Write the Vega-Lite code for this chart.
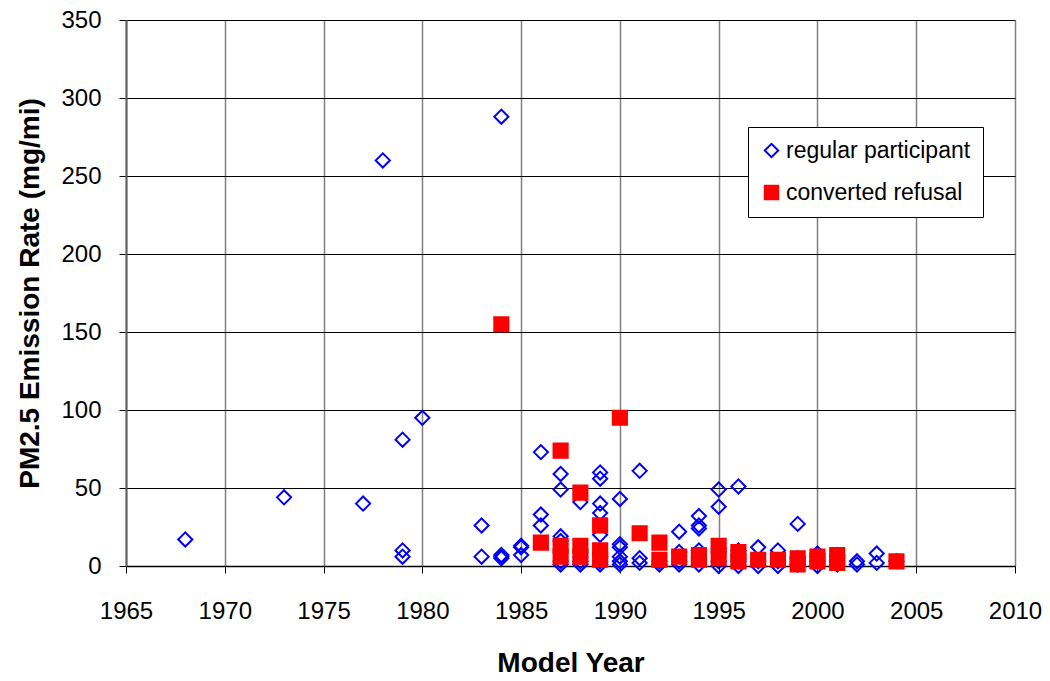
{
  "$schema": "https://vega.github.io/schema/vega-lite/v6.json",
  "width": 889,
  "height": 546,
  "autosize": {"type": "none"},
  "padding": {"left": 126, "top": 20, "right": 35, "bottom": 115},
  "background": "white",
  "config": {"view": {"stroke": null}, "font": "Liberation Sans"},
  "data": {"values": [
    {"year":1968,"pm":17,"type":"regular participant"},
    {"year":1973,"pm":44,"type":"regular participant"},
    {"year":1977,"pm":40,"type":"regular participant"},
    {"year":1978,"pm":260,"type":"regular participant"},
    {"year":1979,"pm":81,"type":"regular participant"},
    {"year":1979,"pm":10,"type":"regular participant"},
    {"year":1979,"pm":6,"type":"regular participant"},
    {"year":1980,"pm":95,"type":"regular participant"},
    {"year":1983,"pm":26,"type":"regular participant"},
    {"year":1983,"pm":6,"type":"regular participant"},
    {"year":1984,"pm":288,"type":"regular participant"},
    {"year":1984,"pm":7,"type":"regular participant"},
    {"year":1984,"pm":6,"type":"regular participant"},
    {"year":1984,"pm":5,"type":"regular participant"},
    {"year":1985,"pm":13,"type":"regular participant"},
    {"year":1985,"pm":12,"type":"regular participant"},
    {"year":1985,"pm":7,"type":"regular participant"},
    {"year":1986,"pm":73,"type":"regular participant"},
    {"year":1986,"pm":33,"type":"regular participant"},
    {"year":1986,"pm":26,"type":"regular participant"},
    {"year":1987,"pm":59,"type":"regular participant"},
    {"year":1987,"pm":49,"type":"regular participant"},
    {"year":1987,"pm":19,"type":"regular participant"},
    {"year":1987,"pm":16,"type":"regular participant"},
    {"year":1987,"pm":3,"type":"regular participant"},
    {"year":1987,"pm":1,"type":"regular participant"},
    {"year":1988,"pm":41,"type":"regular participant"},
    {"year":1988,"pm":6,"type":"regular participant"},
    {"year":1988,"pm":3,"type":"regular participant"},
    {"year":1988,"pm":1,"type":"regular participant"},
    {"year":1989,"pm":60,"type":"regular participant"},
    {"year":1989,"pm":56,"type":"regular participant"},
    {"year":1989,"pm":40,"type":"regular participant"},
    {"year":1989,"pm":34,"type":"regular participant"},
    {"year":1989,"pm":20,"type":"regular participant"},
    {"year":1989,"pm":6,"type":"regular participant"},
    {"year":1989,"pm":3,"type":"regular participant"},
    {"year":1989,"pm":1,"type":"regular participant"},
    {"year":1990,"pm":43,"type":"regular participant"},
    {"year":1990,"pm":14,"type":"regular participant"},
    {"year":1990,"pm":12,"type":"regular participant"},
    {"year":1990,"pm":6,"type":"regular participant"},
    {"year":1990,"pm":3,"type":"regular participant"},
    {"year":1990,"pm":1,"type":"regular participant"},
    {"year":1991,"pm":61,"type":"regular participant"},
    {"year":1991,"pm":5,"type":"regular participant"},
    {"year":1991,"pm":2,"type":"regular participant"},
    {"year":1992,"pm":3,"type":"regular participant"},
    {"year":1992,"pm":1,"type":"regular participant"},
    {"year":1993,"pm":22,"type":"regular participant"},
    {"year":1993,"pm":9,"type":"regular participant"},
    {"year":1993,"pm":3,"type":"regular participant"},
    {"year":1993,"pm":1,"type":"regular participant"},
    {"year":1994,"pm":32,"type":"regular participant"},
    {"year":1994,"pm":26,"type":"regular participant"},
    {"year":1994,"pm":24,"type":"regular participant"},
    {"year":1994,"pm":10,"type":"regular participant"},
    {"year":1994,"pm":5,"type":"regular participant"},
    {"year":1994,"pm":1,"type":"regular participant"},
    {"year":1995,"pm":49,"type":"regular participant"},
    {"year":1995,"pm":38,"type":"regular participant"},
    {"year":1995,"pm":11,"type":"regular participant"},
    {"year":1995,"pm":3,"type":"regular participant"},
    {"year":1995,"pm":0,"type":"regular participant"},
    {"year":1996,"pm":51,"type":"regular participant"},
    {"year":1996,"pm":10,"type":"regular participant"},
    {"year":1996,"pm":3,"type":"regular participant"},
    {"year":1996,"pm":0,"type":"regular participant"},
    {"year":1997,"pm":12,"type":"regular participant"},
    {"year":1997,"pm":3,"type":"regular participant"},
    {"year":1997,"pm":0,"type":"regular participant"},
    {"year":1998,"pm":10,"type":"regular participant"},
    {"year":1998,"pm":3,"type":"regular participant"},
    {"year":1998,"pm":0,"type":"regular participant"},
    {"year":1999,"pm":27,"type":"regular participant"},
    {"year":1999,"pm":5,"type":"regular participant"},
    {"year":1999,"pm":1,"type":"regular participant"},
    {"year":2000,"pm":8,"type":"regular participant"},
    {"year":2000,"pm":3,"type":"regular participant"},
    {"year":2000,"pm":0,"type":"regular participant"},
    {"year":2001,"pm":7,"type":"regular participant"},
    {"year":2001,"pm":1,"type":"regular participant"},
    {"year":2002,"pm":3,"type":"regular participant"},
    {"year":2002,"pm":1,"type":"regular participant"},
    {"year":2003,"pm":8,"type":"regular participant"},
    {"year":2003,"pm":2,"type":"regular participant"},
    {"year":2004,"pm":3,"type":"regular participant"},
    {"year":1984,"pm":155,"type":"converted refusal"},
    {"year":1986,"pm":15,"type":"converted refusal"},
    {"year":1987,"pm":74,"type":"converted refusal"},
    {"year":1987,"pm":13,"type":"converted refusal"},
    {"year":1987,"pm":6,"type":"converted refusal"},
    {"year":1988,"pm":47,"type":"converted refusal"},
    {"year":1988,"pm":13,"type":"converted refusal"},
    {"year":1988,"pm":6,"type":"converted refusal"},
    {"year":1989,"pm":26,"type":"converted refusal"},
    {"year":1989,"pm":10,"type":"converted refusal"},
    {"year":1989,"pm":4,"type":"converted refusal"},
    {"year":1990,"pm":95,"type":"converted refusal"},
    {"year":1991,"pm":21,"type":"converted refusal"},
    {"year":1992,"pm":15,"type":"converted refusal"},
    {"year":1992,"pm":4,"type":"converted refusal"},
    {"year":1993,"pm":6,"type":"converted refusal"},
    {"year":1994,"pm":7,"type":"converted refusal"},
    {"year":1994,"pm":4,"type":"converted refusal"},
    {"year":1995,"pm":13,"type":"converted refusal"},
    {"year":1995,"pm":5,"type":"converted refusal"},
    {"year":1996,"pm":9,"type":"converted refusal"},
    {"year":1996,"pm":3,"type":"converted refusal"},
    {"year":1997,"pm":4,"type":"converted refusal"},
    {"year":1998,"pm":4,"type":"converted refusal"},
    {"year":1999,"pm":5,"type":"converted refusal"},
    {"year":1999,"pm":1,"type":"converted refusal"},
    {"year":2000,"pm":6,"type":"converted refusal"},
    {"year":2000,"pm":3,"type":"converted refusal"},
    {"year":2001,"pm":7,"type":"converted refusal"},
    {"year":2001,"pm":2,"type":"converted refusal"},
    {"year":2004,"pm":3,"type":"converted refusal"}
  ]},
  "mark": {"type": "point", "filled": false, "size": 200, "strokeWidth": 2, "opacity": 1},
  "encoding": {
    "x": {
      "field": "year", "type": "quantitative",
      "scale": {"domain": [1965, 2010], "nice": false, "zero": false},
      "axis": {
        "title": "Model Year",
        "values": [1965, 1970, 1975, 1980, 1985, 1990, 1995, 2000, 2005, 2010],
        "format": "d",
        "grid": true, "gridColor": "#808080", "gridWidth": 1.5, "gridOpacity": 1,
        "domainColor": "#000000", "domainWidth": 1.5,
        "tickColor": "#000000", "tickSize": 7, "tickWidth": 1,
        "labelFontSize": 24, "labelColor": "#000000", "labelPadding": 26,
        "labelFlush": false,
        "titleFontSize": 28, "titleFontWeight": "bold", "titleColor": "#000000",
        "titlePadding": 26
      }
    },
    "y": {
      "field": "pm", "type": "quantitative",
      "scale": {"domain": [0, 350], "nice": false},
      "axis": {
        "title": "PM2.5 Emission Rate (mg/mi)",
        "values": [0, 50, 100, 150, 200, 250, 300, 350],
        "grid": true, "gridColor": "#000000", "gridWidth": 1, "gridOpacity": 1,
        "domainColor": "#606060", "domainWidth": 2,
        "tickColor": "#000000", "tickSize": 7,
        "labelFontSize": 24, "labelColor": "#000000", "labelPadding": 18,
        "labelFlush": false,
        "titleFontSize": 28, "titleFontWeight": "bold", "titleColor": "#000000",
        "titlePadding": 16
      }
    },
    "shape": {
      "field": "type", "type": "nominal",
      "scale": {"domain": ["regular participant", "converted refusal"], "range": ["diamond", "square"]},
      "legend": {
        "title": null, "orient": "none", "legendX": 622, "legendY": 107,
        "fillColor": "white", "strokeColor": "#000000", "padding": 12,
        "labelFontSize": 23, "labelColor": "#000000", "labelOffset": 3, "labelLimit": 0,
        "rowPadding": 18, "symbolSize": 180, "symbolStrokeWidth": 2
      }
    },
    "fill": {
      "field": "type", "type": "nominal",
      "scale": {"domain": ["regular participant", "converted refusal"], "range": ["transparent", "#FF0000"]},
      "legend": {
        "title": null, "orient": "none", "legendX": 622, "legendY": 107,
        "fillColor": "white", "strokeColor": "#000000", "padding": 12,
        "labelFontSize": 23, "labelColor": "#000000", "labelOffset": 3, "labelLimit": 0,
        "rowPadding": 18, "symbolSize": 180, "symbolStrokeWidth": 2
      }
    },
    "stroke": {
      "field": "type", "type": "nominal",
      "scale": {"domain": ["regular participant", "converted refusal"], "range": ["#0000FF", "#FF0000"]},
      "legend": {
        "title": null, "orient": "none", "legendX": 622, "legendY": 107,
        "fillColor": "white", "strokeColor": "#000000", "padding": 12,
        "labelFontSize": 23, "labelColor": "#000000", "labelOffset": 3, "labelLimit": 0,
        "rowPadding": 18, "symbolSize": 180, "symbolStrokeWidth": 2
      }
    }
  }
}
